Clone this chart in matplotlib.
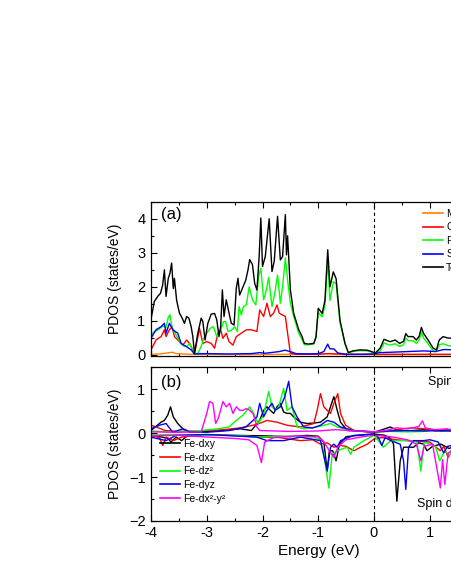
import matplotlib
matplotlib.use("Agg")
import matplotlib.pyplot as plt
from matplotlib.ticker import MultipleLocator

plt.rcParams['font.family'] = ['Liberation Sans', 'DejaVu Sans']

# ---------------- Panel (a): PDOS by element ----------------
tot_x = [-4.00,-3.94,-3.88,-3.83,-3.79,-3.76,-3.73,-3.69,-3.66,-3.63,-3.60,-3.58,-3.54,-3.49,-3.44,-3.40,-3.36,-3.32,-3.28,-3.25,-3.22,-3.16,-3.10,-3.07,-3.03,-2.98,-2.92,-2.86,-2.82,-2.78,-2.75,-2.72,-2.69,-2.65,-2.60,-2.56,-2.51,-2.47,-2.44,-2.41,-2.36,-2.30,-2.26,-2.23,-2.18,-2.14,-2.10,-2.06,-2.03,-2.00,-1.95,-1.88,-1.83,-1.79,-1.73,-1.68,-1.64,-1.59,-1.57,-1.55,-1.50,-1.44,-1.35,-1.29,-1.25,-1.18,-1.08,-1.04,-1.00,-0.93,-0.88,-0.83,-0.79,-0.73,-0.68,-0.61,-0.52,-0.46,-0.38,-0.25,-0.12,-0.04,0.02,0.11,0.18,0.29,0.38,0.46,0.53,0.57,0.61,0.70,0.76,0.81,0.85,0.89,0.97,1.06,1.12,1.17,1.24,1.32,1.39,1.45,1.50]
tot_y = [1.05,1.57,1.72,1.81,2.06,2.50,1.72,2.25,2.40,2.70,1.95,2.25,1.60,1.23,1.08,0.93,1.13,1.08,0.83,0.54,0.05,0.64,1.08,0.98,0.44,0.93,1.20,1.22,1.03,0.54,0.83,1.91,1.13,1.62,1.23,0.93,0.88,1.96,2.25,1.76,1.96,2.20,2.50,2.80,2.65,2.10,1.91,2.89,4.02,2.60,2.89,4.00,2.45,2.75,4.07,2.79,2.89,4.12,2.94,3.50,1.91,1.22,0.74,0.54,0.34,0.32,0.34,0.54,1.37,1.22,1.60,3.09,2.00,2.44,2.24,1.02,0.34,0.07,0.12,0.15,0.14,0.10,0.05,0.20,0.46,0.39,0.44,0.34,0.40,0.63,0.54,0.54,0.44,0.55,0.81,0.63,0.44,0.20,0.15,0.44,0.54,0.50,0.49,0.45,0.48]

fe_x = [-4.00,-3.95,-3.88,-3.83,-3.78,-3.73,-3.69,-3.66,-3.62,-3.57,-3.52,-3.47,-3.42,-3.36,-3.31,-3.27,-3.22,-3.16,-3.10,-3.05,-3.00,-2.94,-2.88,-2.82,-2.77,-2.74,-2.70,-2.66,-2.62,-2.56,-2.50,-2.45,-2.42,-2.38,-2.34,-2.29,-2.24,-2.18,-2.12,-2.07,-2.03,-1.98,-1.93,-1.89,-1.83,-1.78,-1.73,-1.68,-1.64,-1.59,-1.55,-1.50,-1.44,-1.35,-1.29,-1.25,-1.18,-1.08,-1.04,-1.00,-0.93,-0.88,-0.83,-0.79,-0.73,-0.68,-0.61,-0.52,-0.46,-0.38,-0.25,-0.12,-0.04,0.02,0.11,0.18,0.29,0.38,0.46,0.53,0.57,0.61,0.70,0.76,0.81,0.85,0.89,0.97,1.06,1.12,1.17,1.24,1.32,1.39,1.45,1.50]
fe_y = [0.55,0.68,0.73,0.80,0.85,0.80,1.10,1.18,0.80,0.65,0.50,0.34,0.27,0.25,0.34,0.20,0.03,0.05,0.25,0.50,0.64,0.78,0.83,0.54,0.66,0.78,0.98,0.98,0.69,0.72,0.83,0.69,1.42,1.18,1.42,1.47,2.00,1.62,1.47,2.30,2.55,1.62,1.91,2.28,1.42,1.81,2.35,1.52,2.00,2.85,2.20,1.52,1.13,0.64,0.45,0.30,0.30,0.32,0.50,1.25,1.12,1.45,2.80,1.60,2.15,2.10,0.95,0.32,0.06,0.10,0.13,0.12,0.08,0.04,0.12,0.35,0.29,0.33,0.25,0.30,0.50,0.42,0.42,0.34,0.44,0.68,0.50,0.33,0.12,0.10,0.30,0.33,0.28,0.26,0.25,0.27]

cu_x = [-4.00,-3.91,-3.82,-3.76,-3.73,-3.67,-3.62,-3.58,-3.52,-3.43,-3.36,-3.30,-3.22,-3.13,-3.07,-3.00,-2.92,-2.86,-2.80,-2.75,-2.71,-2.65,-2.60,-2.53,-2.47,-2.38,-2.29,-2.20,-2.10,-2.05,-1.98,-1.92,-1.86,-1.80,-1.74,-1.70,-1.65,-1.59,-1.55,-1.50,-1.40,-1.00,-0.80,-0.50,0.00,0.50,1.00,1.50]
cu_y = [0.15,0.44,0.54,0.74,0.54,0.74,0.83,0.54,0.44,0.29,0.44,0.32,0.03,0.78,0.34,0.39,0.34,0.20,0.64,0.74,0.49,0.64,0.39,0.29,0.54,0.64,0.74,0.74,0.69,1.32,1.13,1.52,1.13,1.23,1.47,1.23,1.18,1.13,0.64,0.05,0.02,0.02,0.04,0.02,0.02,0.02,0.02,0.02]

s_x = [-4.00,-3.91,-3.82,-3.76,-3.73,-3.67,-3.61,-3.52,-3.46,-3.37,-3.28,-3.22,-3.00,-2.60,-2.20,-2.05,-1.95,-1.80,-1.70,-1.60,-1.50,-1.40,-1.20,-1.00,-0.90,-0.83,-0.79,-0.72,-0.65,-0.50,-0.20,0.00,0.10,0.30,0.60,0.90,1.10,1.25,1.50]
s_y = [0.49,0.74,0.83,0.93,0.64,0.93,0.74,0.64,0.34,0.25,0.15,0.03,0.04,0.03,0.04,0.07,0.05,0.08,0.10,0.14,0.10,0.04,0.03,0.04,0.10,0.32,0.18,0.18,0.06,0.02,0.02,0.03,0.07,0.08,0.10,0.12,0.10,0.16,0.15]

mn_x = [-4.00,-3.85,-3.70,-3.62,-3.55,-3.30,-2.50,-1.50,-0.85,-0.50,0.00,1.50]
mn_y = [0.02,0.03,0.06,0.08,0.04,0.02,0.01,0.02,0.04,0.01,0.01,0.01]

legend_a = ['Mn', 'Cu', 'Fe', 'S', 'Total']

# ---------------- Panel (b): Fe-d orbital PDOS ----------------
dxy_up_x = [-4.00,-3.82,-3.76,-3.70,-3.65,-3.60,-3.52,-3.43,-3.30,-3.00,-2.70,-2.40,-2.20,-2.05,-1.98,-1.92,-1.86,-1.80,-1.74,-1.68,-1.62,-1.56,-1.50,-1.44,-1.32,-1.20,-1.08,-0.96,-0.84,-0.78,-0.72,-0.66,-0.60,-0.48,-0.20,0.00,0.15,0.29,0.40,0.60,0.90,1.20,1.50]
dxy_up_y = [0.06,0.25,0.29,0.41,0.60,0.37,0.22,0.10,0.02,0.04,0.06,0.10,0.06,0.29,0.52,0.60,0.52,0.45,0.60,0.68,0.48,0.45,0.45,0.37,0.25,0.22,0.23,0.25,0.37,0.60,0.83,0.52,0.25,0.06,0.04,0.02,0.08,0.14,0.08,0.05,0.08,0.05,0.05]
dxy_dn_x = [-4.00,-3.80,-3.70,-3.64,-3.55,-3.45,-3.35,-3.00,-2.50,-2.00,-1.50,-1.20,-1.00,-0.90,-0.84,-0.80,-0.74,-0.68,-0.62,-0.50,-0.20,0.00,0.20,0.30,0.35,0.41,0.47,0.53,0.71,0.80,0.89,0.95,1.05,1.20,1.35,1.50]
dxy_dn_y = [-0.05,-0.09,-0.12,-0.20,-0.09,-0.17,-0.06,-0.04,-0.05,-0.06,-0.08,-0.05,-0.07,-0.20,-0.86,-0.40,-0.40,-0.63,-0.25,-0.08,-0.04,-0.02,-0.05,-0.12,-0.25,-1.55,-0.63,-0.32,-0.32,-0.22,-0.25,-0.40,-0.30,-0.25,-0.35,-0.25]

dxz_up_x = [-4.00,-3.90,-3.75,-3.50,-3.00,-2.70,-2.40,-2.10,-1.92,-1.74,-1.56,-1.32,-1.08,-1.02,-0.96,-0.90,-0.84,-0.78,-0.72,-0.65,-0.60,-0.51,-0.36,-0.10,0.00,0.30,0.50,0.70,0.90,1.10,1.30,1.50]
dxz_up_y = [0.18,0.14,0.06,0.04,0.06,0.08,0.12,0.20,0.29,0.25,0.18,0.14,0.22,0.52,0.90,0.60,0.52,0.45,0.68,0.90,0.45,0.18,0.06,0.03,0.02,0.05,0.10,0.12,0.10,0.05,0.08,0.05]
dxz_dn_x = [-4.00,-3.85,-3.79,-3.73,-3.60,-3.45,-3.20,-2.80,-2.40,-2.05,-1.70,-1.32,-1.10,-0.96,-0.84,-0.72,-0.60,-0.50,-0.36,-0.24,-0.12,0.00,0.15,0.40,0.70,1.00,1.19,1.25,1.33,1.40,1.50]
dxz_dn_y = [-0.05,-0.10,-0.28,-0.09,-0.17,-0.09,-0.05,-0.04,-0.06,-0.09,-0.10,-0.17,-0.15,-0.25,-0.22,-0.32,-0.28,-0.30,-0.40,-0.32,-0.25,-0.13,-0.10,-0.15,-0.18,-0.20,-0.40,-0.30,-0.55,-0.40,-0.35]

dz2_up_x = [-4.00,-3.70,-3.40,-3.10,-2.80,-2.60,-2.47,-2.35,-2.23,-2.16,-2.08,-1.98,-1.89,-1.83,-1.77,-1.71,-1.62,-1.56,-1.47,-1.38,-1.26,-1.10,-0.90,-0.78,-0.66,-0.40,0.00,0.30,0.60,0.90,1.10,1.30,1.50]
dz2_up_y = [0.05,0.03,0.04,0.06,0.10,0.14,0.29,0.41,0.60,0.45,0.22,0.41,0.95,0.60,0.52,0.60,1.02,0.52,0.60,0.14,0.10,0.12,0.18,0.22,0.14,0.06,0.03,0.04,0.03,0.04,0.08,0.05,0.05]
dz2_dn_x = [-4.00,-3.60,-3.00,-2.50,-2.05,-1.50,-1.08,-0.96,-0.90,-0.81,-0.75,-0.66,-0.55,-0.48,-0.42,-0.36,-0.18,0.00,0.17,0.30,0.60,0.77,0.84,0.90,1.00,1.10,1.18,1.27,1.35,1.50]
dz2_dn_y = [-0.04,-0.03,-0.05,-0.05,-0.09,-0.07,-0.09,-0.15,-0.48,-1.25,-0.48,-0.40,-0.35,-0.32,-0.48,-0.32,-0.17,-0.05,-0.32,-0.17,-0.17,-0.20,-0.86,-0.20,-0.25,-0.30,-0.63,-0.40,-0.50,-0.30]

dyz_up_x = [-4.00,-3.85,-3.73,-3.61,-3.43,-3.30,-3.00,-2.60,-2.30,-2.10,-2.05,-1.98,-1.92,-1.83,-1.77,-1.68,-1.60,-1.53,-1.47,-1.38,-1.26,-1.10,-0.96,-0.84,-0.72,-0.60,-0.36,0.00,0.30,0.60,0.90,1.20,1.50]
dyz_up_y = [0.10,0.18,0.22,0.02,0.10,0.03,0.02,0.06,0.14,0.37,0.68,0.37,0.52,0.68,0.52,0.60,0.83,1.18,0.60,0.37,0.14,0.12,0.18,0.29,0.25,0.14,0.06,0.03,0.05,0.06,0.05,0.06,0.05]
dyz_dn_x = [-4.00,-3.73,-3.55,-3.00,-2.10,-1.92,-1.62,-1.32,-0.96,-0.84,-0.78,-0.72,-0.66,-0.60,-0.36,0.00,0.08,0.14,0.20,0.30,0.47,0.53,0.57,0.62,0.71,0.89,1.00,1.15,1.25,1.32,1.50]
dyz_dn_y = [-0.09,-0.17,-0.05,-0.03,-0.09,-0.17,-0.17,-0.09,-0.17,-0.86,-0.32,-0.25,-0.32,-0.17,-0.05,-0.02,-0.10,-0.28,-0.10,-0.17,-0.25,-0.63,-1.28,-0.32,-0.17,-0.17,-0.15,-0.20,-0.45,-0.30,-0.25]

dx2y2_up_x = [-4.00,-3.50,-3.10,-3.00,-2.95,-2.89,-2.84,-2.79,-2.71,-2.65,-2.59,-2.53,-2.47,-2.41,-2.35,-2.29,-2.23,-2.17,-2.10,-2.05,-1.50,-1.00,-0.70,-0.40,0.00,0.20,0.40,0.60,0.80,0.87,0.92,1.10,1.30,1.50]
dx2y2_up_y = [0.03,0.02,0.03,0.45,0.72,0.68,0.22,0.35,0.72,0.60,0.68,0.45,0.60,0.52,0.52,0.56,0.52,0.45,0.14,0.06,0.04,0.05,0.08,0.06,0.03,0.06,0.12,0.10,0.15,0.28,0.12,0.08,0.10,0.06]
dx2y2_dn_x = [-4.00,-3.50,-3.10,-2.80,-2.50,-2.25,-2.10,-2.02,-1.96,-1.80,-1.40,-1.00,-0.90,-0.80,-0.72,-0.64,-0.50,-0.20,0.00,0.30,0.60,0.76,0.84,0.90,1.05,1.19,1.23,1.27,1.33,1.50]
dx2y2_dn_y = [-0.06,-0.05,-0.08,-0.10,-0.12,-0.15,-0.28,-0.67,-0.20,-0.10,-0.06,-0.08,-0.20,-0.40,-0.55,-0.30,-0.15,-0.08,-0.05,-0.08,-0.15,-0.25,-0.63,-0.30,-0.25,-1.25,-0.60,-1.17,-0.45,-0.30]

legend_b = ['Fe-dxy', 'Fe-dxz', 'Fe-dz\u00b2', 'Fe-dyz', 'Fe-dx\u00b2-y\u00b2']

x_ticks = [-4, -3, -2, -1, 0, 1, 2]
ya_ticks = [0, 1, 2, 3, 4]
yb_ticks = [-2, -1, 0, 1]

# ---------------- Figure ----------------
W, H = 452, 585
fig = plt.figure(figsize=(W / 100, H / 100), dpi=100)

def frac(left, top, right, bottom):
    return [left / W, (H - bottom) / H, (right - left) / W, (bottom - top) / H]

ax1 = fig.add_axes(frac(151, 201.7, 485.5, 356))
ax2 = fig.add_axes(frac(151, 367.3, 485.5, 521))

ORANGE, RED, GREEN, BLUE, MAG = '#FF8000', '#FF0000', '#00FF00', '#0000FF', '#FF00FF'
lw = 1.0
ax1.plot(mn_x, mn_y, color=ORANGE, lw=lw, label=legend_a[0])
ax1.plot(cu_x, cu_y, color=RED, lw=lw, label=legend_a[1])
ax1.plot(fe_x, fe_y, color=GREEN, lw=lw, label=legend_a[2])
ax1.plot(s_x, s_y, color=BLUE, lw=lw, label=legend_a[3])
ax1.plot(tot_x, tot_y, color='black', lw=lw, label=legend_a[4])

pairs = [(dxy_up_x, dxy_up_y, dxy_dn_x, dxy_dn_y, 'black'),
         (dxz_up_x, dxz_up_y, dxz_dn_x, dxz_dn_y, RED),
         (dz2_up_x, dz2_up_y, dz2_dn_x, dz2_dn_y, GREEN),
         (dyz_up_x, dyz_up_y, dyz_dn_x, dyz_dn_y, BLUE),
         (dx2y2_up_x, dx2y2_up_y, dx2y2_dn_x, dx2y2_dn_y, MAG)]
for (ux, uy, dx, dy, c), lab in zip(pairs, legend_b):
    ax2.plot(ux, uy, color=c, lw=lw, label=lab)
    ax2.plot(dx, dy, color=c, lw=lw)

for ax in (ax1, ax2):
    ax.axvline(0, color='black', lw=0.8, ls=(0, (3, 2.5)))
    ax.set_xlim(-4, 2)
    ax.set_xticks(x_ticks)
    ax.xaxis.set_minor_locator(MultipleLocator(0.5))
    ax.yaxis.set_minor_locator(MultipleLocator(0.5))
    ax.tick_params(which='both', direction='in', top=True, right=True, labelsize=10.5, width=0.8)
    ax.tick_params(which='major', length=4.5)
    ax.tick_params(which='minor', length=2.5)
    ax.tick_params(axis='y', pad=4)
    for sp in ax.spines.values():
        sp.set_linewidth(0.9)

ax1.set_ylim(-0.03, 4.5)
ax1.set_yticks(ya_ticks)
ax1.tick_params(labelbottom=False)
ax2.set_ylim(-2, 1.5)
ax2.set_yticks(yb_ticks)
ax2.set_xticklabels([str(t) for t in x_ticks])

leg1 = ax1.legend(loc='upper left', bbox_to_anchor=(423 / W, (H - 209) / H),
                  bbox_transform=fig.transFigure, frameon=False, fontsize=7.5,
                  handlelength=1.92, handletextpad=0.3, labelspacing=0.33,
                  borderpad=0, borderaxespad=0)
for l in leg1.get_lines():
    l.set_linewidth(1.2)
leg2 = ax2.legend(loc='upper left', bbox_to_anchor=(160 / W, (H - 439) / H),
                  bbox_transform=fig.transFigure, frameon=False, fontsize=7.5,
                  handlelength=1.92, handletextpad=0.3, labelspacing=0.35,
                  borderpad=0, borderaxespad=0)
for l in leg2.get_lines():
    l.set_linewidth(1.2)

fig.text(161 / W, (H - 215) / H, '(a)', fontsize=12, ha='left', va='center')
fig.text(161 / W, (H - 382) / H, '(b)', fontsize=12, ha='left', va='center')
fig.text(428 / W, (H - 382) / H, 'Spin up', fontsize=9, ha='left', va='center')
fig.text(417 / W, (H - 504) / H, 'Spin down', fontsize=9, ha='left', va='center')
fig.text(115 / W, (H - 279) / H, 'PDOS (states/eV)', fontsize=10, rotation=90, ha='center', va='center')
fig.text(115 / W, (H - 444) / H, 'PDOS (states/eV)', fontsize=10, rotation=90, ha='center', va='center')
fig.text(319 / W, (H - 551) / H, 'Energy (eV)', fontsize=11, ha='center', va='center')

fig.savefig('out.png', dpi=100)
